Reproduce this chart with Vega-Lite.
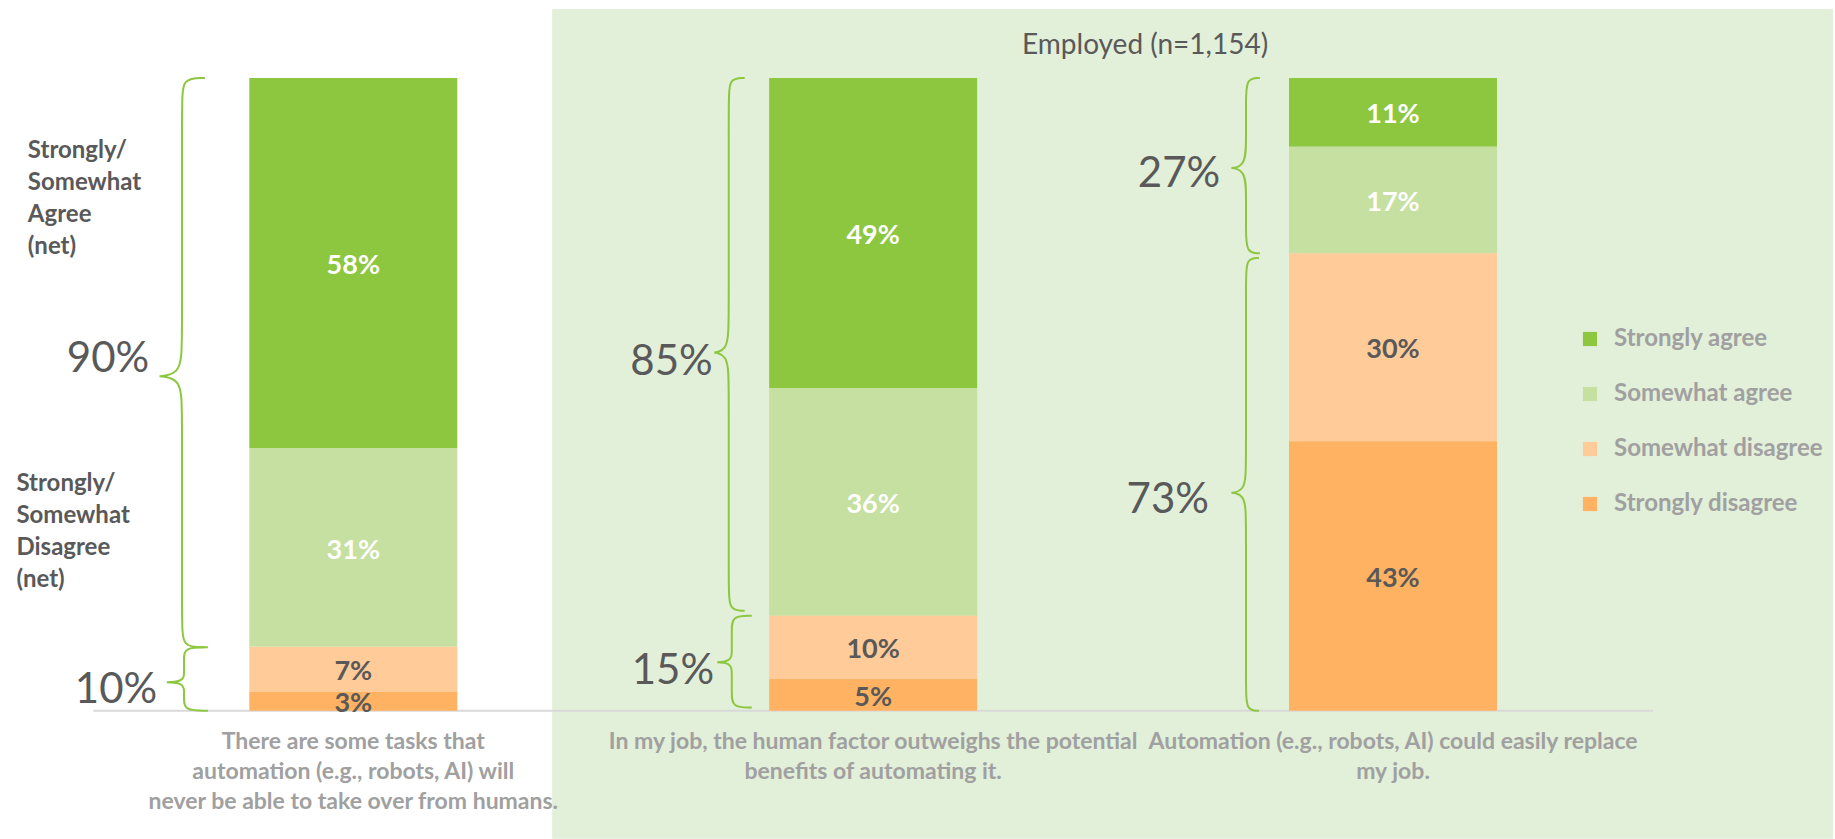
{
  "$schema": "https://vega.github.io/schema/vega-lite/v6.json",
  "width": 1835,
  "height": 839,
  "autosize": {"type": "fit", "contains": "padding"},
  "padding": 0,
  "background": "#ffffff",
  "config": {
    "view": {"stroke": null},
    "font": "Lato",
    "axis": {"disable": true},
    "legend": {
      "orient": "none",
      "legendX": 1578,
      "legendY": 327,
      "title": null,
      "symbolType": "square",
      "symbolSize": 200,
      "symbolStrokeWidth": 0,
      "labelFont": "Lato",
      "labelFontSize": 24,
      "labelFontWeight": "bold",
      "labelColor": "#a0a0a0",
      "labelOffset": 12,
      "labelLimit": 0,
      "rowPadding": 31,
      "padding": 0
    }
  },
  "datasets": {
    "responses": [
      {"q": 1, "question": "There are some tasks that\nautomation (e.g., robots, AI) will\nnever be able to take over from humans.", "cat": "Strongly agree", "level": 4, "share": 0.58},
      {"q": 1, "question": "There are some tasks that\nautomation (e.g., robots, AI) will\nnever be able to take over from humans.", "cat": "Somewhat agree", "level": 3, "share": 0.31},
      {"q": 1, "question": "There are some tasks that\nautomation (e.g., robots, AI) will\nnever be able to take over from humans.", "cat": "Somewhat disagree", "level": 2, "share": 0.07},
      {"q": 1, "question": "There are some tasks that\nautomation (e.g., robots, AI) will\nnever be able to take over from humans.", "cat": "Strongly disagree", "level": 1, "share": 0.03},
      {"q": 2, "question": "In my job, the human factor outweighs the potential\nbenefits of automating it.", "cat": "Strongly agree", "level": 4, "share": 0.49},
      {"q": 2, "question": "In my job, the human factor outweighs the potential\nbenefits of automating it.", "cat": "Somewhat agree", "level": 3, "share": 0.36},
      {"q": 2, "question": "In my job, the human factor outweighs the potential\nbenefits of automating it.", "cat": "Somewhat disagree", "level": 2, "share": 0.10},
      {"q": 2, "question": "In my job, the human factor outweighs the potential\nbenefits of automating it.", "cat": "Strongly disagree", "level": 1, "share": 0.05},
      {"q": 3, "question": "Automation (e.g., robots, AI) could easily replace\nmy job.", "cat": "Strongly agree", "level": 4, "share": 0.11},
      {"q": 3, "question": "Automation (e.g., robots, AI) could easily replace\nmy job.", "cat": "Somewhat agree", "level": 3, "share": 0.17},
      {"q": 3, "question": "Automation (e.g., robots, AI) could easily replace\nmy job.", "cat": "Somewhat disagree", "level": 2, "share": 0.30},
      {"q": 3, "question": "Automation (e.g., robots, AI) could easily replace\nmy job.", "cat": "Strongly disagree", "level": 1, "share": 0.43}
    ],
    "panel": [{"group": "Employed (n=1,154)", "first": 2, "last": 3}],
    "nets": [
      {"net": 0.90, "x": 0.6074, "y": 0.5618},
      {"net": 0.10, "x": 0.6227, "y": 0.0387},
      {"net": 0.85, "x": 1.6914, "y": 0.558},
      {"net": 0.15, "x": 1.6941, "y": 0.0687},
      {"net": 0.27, "x": 2.6675, "y": 0.8548},
      {"net": 0.73, "x": 2.6460, "y": 0.3386}
    ],
    "sides": [
      {"text": "Strongly/\nSomewhat\nAgree\n(net)", "x": 0.374, "y": 0.8895},
      {"text": "Strongly/\nSomewhat\nDisagree\n(net)", "x": 0.352, "y": 0.3623}
    ],
    "braces": [
      {"b": "b1", "x": 0.7145, "y": 1.0},
      {"b": "b1", "x": 0.6705, "y": 1.0},
      {"b": "b1", "x": 0.6705, "y": 0.9605},
      {"b": "b1", "x": 0.6705, "y": 0.5838},
      {"b": "b1", "x": 0.6705, "y": 0.5285},
      {"b": "b1", "x": 0.6055, "y": 0.5285},
      {"b": "b1", "x": 0.6705, "y": 0.5285},
      {"b": "b1", "x": 0.6705, "y": 0.4732},
      {"b": "b1", "x": 0.6705, "y": 0.1395},
      {"b": "b1", "x": 0.6705, "y": 0.10},
      {"b": "b1", "x": 0.7145, "y": 0.10},
      {"b": "b2", "x": 0.7203, "y": 0.10},
      {"b": "b2", "x": 0.6744, "y": 0.10},
      {"b": "b2", "x": 0.6744, "y": 0.081},
      {"b": "b2", "x": 0.6744, "y": 0.0608},
      {"b": "b2", "x": 0.6744, "y": 0.045},
      {"b": "b2", "x": 0.6247, "y": 0.045},
      {"b": "b2", "x": 0.6744, "y": 0.045},
      {"b": "b2", "x": 0.6744, "y": 0.0292},
      {"b": "b2", "x": 0.6744, "y": 0.019},
      {"b": "b2", "x": 0.6744, "y": 0.0},
      {"b": "b2", "x": 0.7203, "y": 0.0},
      {"b": "b3", "x": 1.7528, "y": 1.0},
      {"b": "b3", "x": 1.7222, "y": 1.0},
      {"b": "b3", "x": 1.7222, "y": 0.9605},
      {"b": "b3", "x": 1.7222, "y": 0.6213},
      {"b": "b3", "x": 1.7222, "y": 0.566},
      {"b": "b3", "x": 1.6801, "y": 0.566},
      {"b": "b3", "x": 1.7222, "y": 0.566},
      {"b": "b3", "x": 1.7222, "y": 0.5107},
      {"b": "b3", "x": 1.7222, "y": 0.1975},
      {"b": "b3", "x": 1.7222, "y": 0.158},
      {"b": "b3", "x": 1.7528, "y": 0.158},
      {"b": "b4", "x": 1.7664, "y": 0.15},
      {"b": "b4", "x": 1.7281, "y": 0.15},
      {"b": "b4", "x": 1.7281, "y": 0.1263},
      {"b": "b4", "x": 1.7281, "y": 0.0956},
      {"b": "b4", "x": 1.7281, "y": 0.0766},
      {"b": "b4", "x": 1.6860, "y": 0.0766},
      {"b": "b4", "x": 1.7281, "y": 0.0766},
      {"b": "b4", "x": 1.7281, "y": 0.0576},
      {"b": "b4", "x": 1.7281, "y": 0.0287},
      {"b": "b4", "x": 1.7281, "y": 0.005},
      {"b": "b4", "x": 1.7664, "y": 0.005},
      {"b": "b5", "x": 2.7440, "y": 1.0},
      {"b": "b5", "x": 2.7172, "y": 1.0},
      {"b": "b5", "x": 2.7172, "y": 0.9605},
      {"b": "b5", "x": 2.7172, "y": 0.9049},
      {"b": "b5", "x": 2.7172, "y": 0.8575},
      {"b": "b5", "x": 2.6751, "y": 0.8575},
      {"b": "b5", "x": 2.7172, "y": 0.8575},
      {"b": "b5", "x": 2.7172, "y": 0.8101},
      {"b": "b5", "x": 2.7172, "y": 0.7625},
      {"b": "b5", "x": 2.7172, "y": 0.723},
      {"b": "b5", "x": 2.7440, "y": 0.723},
      {"b": "b6", "x": 2.7421, "y": 0.7154},
      {"b": "b6", "x": 2.7172, "y": 0.7154},
      {"b": "b6", "x": 2.7172, "y": 0.6759},
      {"b": "b6", "x": 2.7172, "y": 0.3918},
      {"b": "b6", "x": 2.7172, "y": 0.3444},
      {"b": "b6", "x": 2.6751, "y": 0.3444},
      {"b": "b6", "x": 2.7172, "y": 0.3444},
      {"b": "b6", "x": 2.7172, "y": 0.297},
      {"b": "b6", "x": 2.7172, "y": 0.0395},
      {"b": "b6", "x": 2.7172, "y": 0.0},
      {"b": "b6", "x": 2.7421, "y": 0.0}
    ]
  },
  "layer": [
    {
      "data": {"name": "panel"},
      "mark": {"type": "rect", "color": "#e2efd9", "xOffset": -321, "x2Offset": 440, "yOffset": -69, "y2Offset": 128},
      "encoding": {
        "x": {"field": "first", "type": "quantitative", "scale": {"domain": [0.33, 3.8406], "nice": false, "zero": false}},
        "x2": {"field": "last"},
        "y": {"datum": 1, "type": "quantitative", "scale": {"domain": [-0.2013, 1.1231], "nice": false, "zero": false}},
        "y2": {"datum": 0}
      }
    },
    {
      "data": {"name": "panel"},
      "mark": {"type": "text", "fontSize": 28, "color": "#595959", "baseline": "middle", "align": "center", "dx": 12, "dy": -32},
      "encoding": {
        "x": {"datum": 2.5, "type": "quantitative", "scale": {"domain": [0.33, 3.8406], "nice": false, "zero": false}},
        "y": {"datum": 1, "type": "quantitative", "scale": {"domain": [-0.2013, 1.1231], "nice": false, "zero": false}},
        "text": {"field": "group"}
      }
    },
    {
      "data": {"values": [{"line": "baseline"}]},
      "mark": {"type": "rule", "color": "#d9d9d9", "strokeWidth": 2},
      "encoding": {
        "x": {"datum": 0.5, "type": "quantitative", "scale": {"domain": [0.33, 3.8406], "nice": false, "zero": false}},
        "x2": {"datum": 3.5},
        "y": {"datum": 0, "type": "quantitative", "scale": {"domain": [-0.2013, 1.1231], "nice": false, "zero": false}}
      }
    },
    {
      "data": {"name": "responses"},
      "mark": {"type": "bar", "width": 208},
      "encoding": {
        "x": {"field": "q", "type": "quantitative", "scale": {"domain": [0.33, 3.8406], "nice": false, "zero": false}},
        "y": {"aggregate": "sum", "field": "share", "type": "quantitative", "stack": "normalize", "scale": {"domain": [-0.2013, 1.1231], "nice": false, "zero": false}},
        "fill": {
          "field": "cat",
          "type": "nominal",
          "scale": {
            "domain": ["Strongly agree", "Somewhat agree", "Somewhat disagree", "Strongly disagree"],
            "range": ["#8dc63f", "#c5e0a0", "#ffcb98", "#ffb262"]
          },
          "legend": {"orient": "none", "legendX": 1578, "legendY": 327}
        },
        "order": {"field": "level", "type": "quantitative", "sort": "ascending"}
      }
    },
    {
      "data": {"name": "responses"},
      "mark": {"type": "text", "fontSize": 27, "fontWeight": "bold", "baseline": "middle", "align": "center", "dy": 3},
      "encoding": {
        "x": {"field": "q", "type": "quantitative", "scale": {"domain": [0.33, 3.8406], "nice": false, "zero": false}},
        "y": {"aggregate": "sum", "field": "share", "type": "quantitative", "stack": "normalize", "bandPosition": 0.5, "scale": {"domain": [-0.2013, 1.1231], "nice": false, "zero": false}},
        "detail": {"field": "cat", "type": "nominal"},
        "order": {"field": "level", "type": "quantitative", "sort": "ascending"},
        "text": {"aggregate": "sum", "field": "share", "type": "quantitative", "format": ".0%"},
        "color": {"condition": {"test": "datum.level >= 3", "value": "#ffffff"}, "value": "#595959"}
      }
    },
    {
      "data": {"name": "braces"},
      "mark": {"type": "line", "interpolate": "basis", "color": "#8dc63f", "strokeWidth": 2},
      "encoding": {
        "x": {"field": "x", "type": "quantitative", "scale": {"domain": [0.33, 3.8406], "nice": false, "zero": false}},
        "y": {"field": "y", "type": "quantitative", "scale": {"domain": [-0.2013, 1.1231], "nice": false, "zero": false}},
        "detail": {"field": "b", "type": "nominal"},
        "order": {"value": null}
      }
    },
    {
      "data": {"name": "nets"},
      "mark": {"type": "text", "fontSize": 42, "color": "#595959", "baseline": "middle", "align": "right", "dy": 4},
      "encoding": {
        "x": {"field": "x", "type": "quantitative", "scale": {"domain": [0.33, 3.8406], "nice": false, "zero": false}},
        "y": {"field": "y", "type": "quantitative", "scale": {"domain": [-0.2013, 1.1231], "nice": false, "zero": false}},
        "text": {"field": "net", "type": "quantitative", "format": ".0%"}
      }
    },
    {
      "data": {"name": "sides"},
      "mark": {"type": "text", "fontSize": 24, "fontWeight": "bold", "color": "#595959", "baseline": "middle", "align": "left", "lineBreak": "\n", "lineHeight": 32, "dy": 3},
      "encoding": {
        "x": {"field": "x", "type": "quantitative", "scale": {"domain": [0.33, 3.8406], "nice": false, "zero": false}},
        "y": {"field": "y", "type": "quantitative", "scale": {"domain": [-0.2013, 1.1231], "nice": false, "zero": false}},
        "text": {"field": "text"}
      }
    },
    {
      "data": {"name": "responses"},
      "transform": [{"filter": "datum.level == 4"}],
      "mark": {"type": "text", "fontSize": 23, "fontWeight": "bold", "color": "#a0a0a0", "baseline": "top", "align": "center", "lineBreak": "\n", "lineHeight": 30, "dy": 20},
      "encoding": {
        "x": {"field": "q", "type": "quantitative", "scale": {"domain": [0.33, 3.8406], "nice": false, "zero": false}},
        "y": {"datum": 0, "type": "quantitative", "scale": {"domain": [-0.2013, 1.1231], "nice": false, "zero": false}},
        "text": {"field": "question"}
      }
    }
  ]
}
